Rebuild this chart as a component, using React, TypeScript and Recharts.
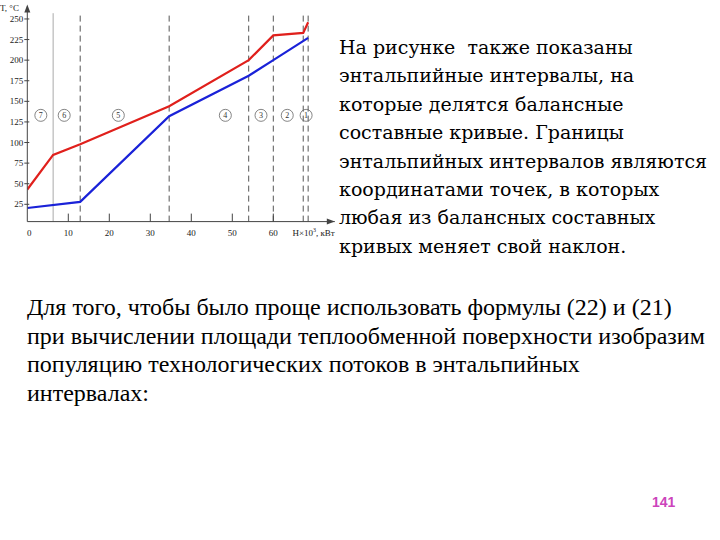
import { LineChart, Line, XAxis, YAxis, ReferenceLine, ReferenceDot } from "recharts"

// enthalpy H×10³ kW vs temperature °C
const hotH = [0, 6.3, 12.9, 34.6, 54, 60, 67.3, 68.5]
const hotT = [43, 85, 98, 144, 200, 230, 233, 246]
const coldH = [0, 12.9, 34.6, 54, 60, 68.5]
const coldT = [20.5, 28, 132, 181, 200, 227]

const bounds = [6.3, 12.9, 34.6, 54, 60, 67.3, 68.5]
const intervalNames = ["7", "6", "5", "4", "3", "2", "1"]
const intervalH = [3.3, 9, 22.2, 48.3, 57, 63.4, 68]

const xTicks = [0, 10, 20, 30, 40, 50, 60]
const yTicks = [25, 50, 75, 100, 125, 150, 175, 200, 225, 250]

const rightLines = [
  "На рисунке  также показаны",
  "энтальпийные интервалы, на",
  "которые делятся балансные",
  "составные кривые. Границы",
  "энтальпийных интервалов являются",
  "координатами точек, в которых",
  "любая из балансных составных",
  "кривых меняет свой наклон.",
]

const bottomLines = [
  "Для того, чтобы было проще использовать формулы (22) и (21)",
  "при вычислении площади теплообменной поверхности изобразим",
  "популяцию технологических потоков в энтальпийных",
  "интервалах:",
]

const hot = hotH.map((h, i) => ({ h, t: hotT[i] }))
const cold = coldH.map((h, i) => ({ h, t: coldT[i] }))

const serif = "Liberation Serif"
const axisColor = "#444"

const XTick = ({ x, y, payload }: any) => (
  <g>
    {payload.value !== 0 && (
      <line x1={x} y1={y - 8} x2={x} y2={y} stroke={axisColor} />
    )}
    <text x={x + (payload.value === 0 ? 2 : 0)} y={y + 14} textAnchor="middle" fontFamily={serif} fontSize={9} fill="#222">
      {payload.value}
    </text>
  </g>
)

const YTick = ({ x, y, payload }: any) => (
  <g>
    <line x1={x - 3} y1={y} x2={x + 2} y2={y} stroke={axisColor} />
    <text x={x - 4} y={y + 3} textAnchor="end" fontFamily={serif} fontSize={9} fill="#222">
      {payload.value}
    </text>
  </g>
)

const RightArrow = ({ cx, cy }: any) => (
  <polygon points={`${cx},${cy} ${cx - 8},${cy - 3} ${cx - 8},${cy + 3}`} fill={axisColor} />
)
const UpArrow = ({ cx, cy }: any) => (
  <polygon points={`${cx},${cy - 2} ${cx - 3},${cy + 6} ${cx + 3},${cy + 6}`} fill={axisColor} />
)

const circled = (name: string) => ({ cx, cy }: any) => (
  <g>
    <circle cx={cx} cy={cy} r={6} fill="none" stroke="#666" strokeWidth={0.8} />
    <text x={cx} y={cy + 3} textAnchor="middle" fontFamily={serif} fontSize={8} fill="#333">
      {name}
    </text>
  </g>
)

export default function App() {
  return (
    <div style={{ position: "absolute", left: 0, top: 0, width: 720, height: 540, background: "#fff" }}>
      <div style={{ position: "absolute", left: 339, top: 33, fontFamily: "'DejaVu Serif'", fontSize: 19, lineHeight: "28.4px", whiteSpace: "pre" }}>
        {rightLines.map((s) => (
          <div key={s}>{s}</div>
        ))}
      </div>
      <div style={{ position: "absolute", left: 27, top: 293, fontFamily: "'Liberation Serif'", fontSize: 24, lineHeight: "28.5px", whiteSpace: "pre" }}>
        {bottomLines.map((s) => (
          <div key={s}>{s}</div>
        ))}
      </div>
      <div style={{ position: "absolute", left: 652, top: 494, fontFamily: "'Liberation Sans'", fontSize: 14, fontWeight: "bold", color: "#cc44bb" }}>
        141
      </div>
      <div style={{ position: "absolute", left: 0, top: 0 }}>
        <LineChart width={345} height={250} margin={{ top: 6.6, right: 10.2, left: 0, bottom: 0 }}>
          <XAxis
            dataKey="h"
            type="number"
            domain={[0, 75]}
            ticks={xTicks}
            interval={0}
            allowDataOverflow
            height={28.4}
            stroke={axisColor}
            tickLine={false}
            tickSize={0}
            tickMargin={0}
            tick={<XTick />}
            label={({ viewBox }: any) => (
              <text x={viewBox.x + viewBox.width} y={viewBox.y + 14} textAnchor="end" fontFamily={serif} fontSize={9} fill="#222">
                H×10<tspan dy={-4} fontSize={6}>3</tspan><tspan dy={4}>, кВт</tspan>
              </text>
            )}
          />
          <YAxis
            dataKey="t"
            type="number"
            domain={[4, 265]}
            ticks={yTicks}
            interval={0}
            allowDataOverflow
            width={27.3}
            stroke={axisColor}
            tickLine={false}
            tickSize={0}
            tickMargin={0}
            tick={<YTick />}
            label={({ viewBox }: any) => (
              <text x={0} y={viewBox.y + 4} fontFamily={serif} fontSize={9} fill="#222">
                T, °C
              </text>
            )}
          />
          {bounds.map((b, i) => (
            <ReferenceLine
              key={b}
              segment={[{ x: b, y: 4 }, { x: b, y: 257 }]}
              stroke={i === 0 ? "#aaa" : "#555"}
              strokeWidth={1}
              strokeDasharray={i === 0 ? undefined : "6 4"}
            />
          ))}
          {intervalNames.map((n, i) => (
            <ReferenceDot key={n} x={intervalH[i]} y={133} r={6} shape={circled(n)} ifOverflow="visible" />
          ))}
          <Line data={cold} dataKey="t" stroke="#1a22d8" strokeWidth={2.2} dot={false} isAnimationActive={false} />
          <Line data={hot} dataKey="t" stroke="#e0201c" strokeWidth={2.2} dot={false} isAnimationActive={false} />
          <ReferenceDot x={75} y={4} r={3} shape={<RightArrow />} ifOverflow="visible" />
          <ReferenceDot x={0} y={265} r={3} shape={<UpArrow />} ifOverflow="visible" />
        </LineChart>
      </div>
    </div>
  )
}
